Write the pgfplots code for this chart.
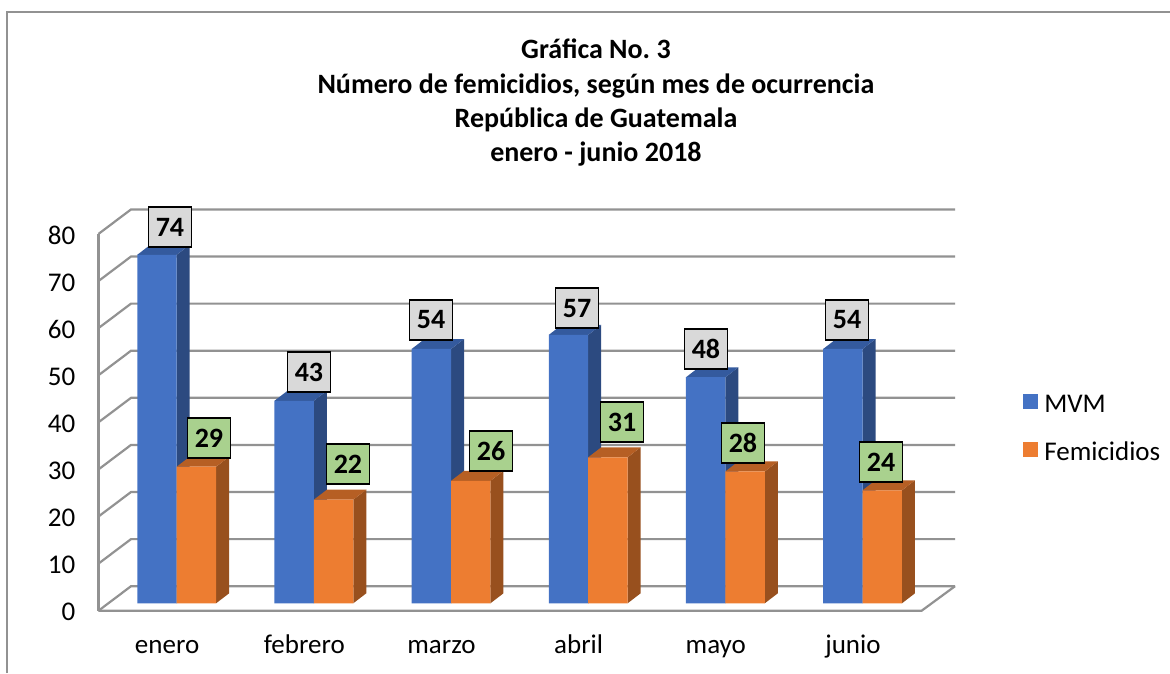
\documentclass[border=0pt]{standalone}
\usepackage{fontspec}
\setmainfont{Carlito}
\usepackage{pgfplots}
\pgfplotsset{compat=1.18}
\definecolor{mvm}{HTML}{4472C4}
\definecolor{mvmside}{HTML}{2C4A80}
\definecolor{mvmtop}{HTML}{345A9E}
\definecolor{fem}{HTML}{ED7D31}
\definecolor{femside}{HTML}{98501E}
\definecolor{femtop}{HTML}{B65F24}
\definecolor{wall}{HTML}{929292}
\definecolor{labgray}{HTML}{D9D9D9}
\definecolor{labgreen}{HTML}{A9D18E}

% side and top of one bar: left edge, value, side colour, top colour
\newcommand{\barsides}[4]{%
  \pgfmathsetmacro{\xr}{#1+0.2872}%
  \pgfmathsetmacro{\xlb}{#1+0.0948}%
  \pgfmathsetmacro{\xrb}{\xr+0.0948}%
  \pgfmathsetmacro{\yt}{#2+1.57}%
  \pgfmathsetmacro{\ytb}{#2+3.69}%
  \addplot[fill=#3, draw=none, forget plot] coordinates {(\xr,1.57) (\xrb,3.69) (\xrb,\ytb) (\xr,\yt)} -- cycle;
  \addplot[fill=#4, draw=none, forget plot] coordinates {(#1,\yt) (\xlb,\ytb) (\xrb,\ytb) (\xr,\yt)} -- cycle;
}
% one line of the chart's wall and floor
\newcommand{\wallline}[1]{\addplot[wall, line width=2.2pt, forget plot] coordinates {#1};}

\begin{document}
\begin{tikzpicture}[x=1pt,y=1pt]
\useasboundingbox (0,0) rectangle (1170,673);
\draw[wall, line width=1.4pt] (7,0) -- (7,661) -- (1170,661);
\begin{axis}[
  at={(98.5pt,62.3pt)}, anchor=south west,
  scale only axis, width=856.5pt, height=402.2pt,
  xmin=-0.570, xmax=5.674, ymin=0, ymax=85.4,
  clip=false,
  axis line style={draw=none},
  major tick length=0pt, tick style={draw=none},
  xtick={-0.07,0.93,1.93,2.93,3.93,4.93},
  xticklabels={enero,febrero,marzo,abril,mayo,junio},
  ytick={0,10,20,30,40,50,60,70,80},
  /pgf/number format/assume math mode=true,
  tick label style={font=\fontsize{27}{32}\selectfont},
  yticklabel style={anchor=east, inner sep=0pt, xshift=-23pt, yshift=-1.5pt},
  xticklabel style={anchor=base, inner sep=0pt, yshift=-43pt},
  title style={at={(0.5808,1)}, anchor=base, align=center, yshift=41pt,
    font=\fontsize{28}{34.2}\selectfont\bfseries},
  title={Gráfica No.\ 3\\Número de femicidios, según mes de ocurrencia\\República de Guatemala\\enero - junio 2018},
  legend style={draw=none, fill=none, at={(1.0795,0.452)}, anchor=west,
    font=\fontsize{27}{32}\selectfont, row sep=24pt, inner sep=0pt,
    /tikz/every odd column/.append style={column sep=4pt}},
  legend cell align=left,
  legend image code/.code={\fill[#1] (0pt,-12pt) rectangle (15pt,3pt);},
]
% walls and floor
\wallline{(-0.570,0) (-0.570,80)}
\wallline{(-0.570,0) (5.431,0) (5.674,5.2)}
\wallline{(-0.570,0) (-0.333,5.2) (5.674,5.2)}
\wallline{(-0.570,10) (-0.333,15.2) (5.674,15.2)}
\wallline{(-0.570,20) (-0.333,25.2) (5.674,25.2)}
\wallline{(-0.570,30) (-0.333,35.2) (5.674,35.2)}
\wallline{(-0.570,40) (-0.333,45.2) (5.674,45.2)}
\wallline{(-0.570,50) (-0.333,55.2) (5.674,55.2)}
\wallline{(-0.570,60) (-0.333,65.2) (5.674,65.2)}
\wallline{(-0.570,70) (-0.333,75.2) (5.674,75.2)}
\wallline{(-0.570,80) (-0.333,85.2) (5.674,85.2)}
% MVM
\barsides{-0.2872}{74}{mvmside}{mvmtop}
\barsides{0.7128}{43}{mvmside}{mvmtop}
\barsides{1.7128}{54}{mvmside}{mvmtop}
\barsides{2.7128}{57}{mvmside}{mvmtop}
\barsides{3.7128}{48}{mvmside}{mvmtop}
\barsides{4.7128}{54}{mvmside}{mvmtop}
\addplot[ybar, bar width=39.4pt, bar shift=-19.7pt, yshift=7.4pt, fill=mvm, draw=none]
  coordinates {(0,74) (1,43) (2,54) (3,57) (4,48) (5,54)};
\addlegendentry{MVM}
% Femicidios
\barsides{0}{29}{femside}{femtop}
\barsides{1}{22}{femside}{femtop}
\barsides{2}{26}{femside}{femtop}
\barsides{3}{31}{femside}{femtop}
\barsides{4}{28}{femside}{femtop}
\barsides{5}{24}{femside}{femtop}
\addplot[ybar, bar width=39.4pt, bar shift=19.7pt, yshift=7.4pt, fill=fem, draw=none]
  coordinates {(0,29) (1,22) (2,26) (3,31) (4,28) (5,24)};
\addlegendentry{Femicidios}
% data labels, moved by hand as in the original
\addplot[only marks, mark=none, forget plot,
  visualization depends on={\thisrow{dx}\as\dx},
  visualization depends on={\thisrow{dy}\as\dy},
  nodes near coords, nodes near coords align={center},
  every node near coord/.append style={font=\fontsize{28}{32}\selectfont\bfseries,
    /pgf/number format/assume math mode=true,
    fill=labgray, draw=black, line width=1.3pt, inner sep=0pt, anchor=center,
    minimum width=43pt, minimum height=40pt, xshift=\dx pt, yshift=\dy pt}]
  table {
x v dx dy
0 74 -6.7 35.2
1 43 -4.9 36.2
2 54 -20 36.4
3 57 -11.2 34.2
4 48 -19.4 35.6
5 54 -15.5 36.4
};
\addplot[only marks, mark=none, forget plot,
  visualization depends on={\thisrow{dx}\as\dx},
  visualization depends on={\thisrow{dy}\as\dy},
  nodes near coords, nodes near coords align={center},
  every node near coord/.append style={font=\fontsize{28}{32}\selectfont\bfseries,
    /pgf/number format/assume math mode=true,
    fill=labgreen, draw=black, line width=1.3pt, inner sep=0pt, anchor=center,
    minimum width=43pt, minimum height=40pt, xshift=\dx pt, yshift=\dy pt}]
  table {
x v dx dy
0 29 32.3 36.1
1 22 34.1 43.1
2 26 40 37.2
3 31 33.8 42.7
4 28 17.6 35.8
5 24 18.5 35.7
};
\end{axis}
\end{tikzpicture}
\end{document}
